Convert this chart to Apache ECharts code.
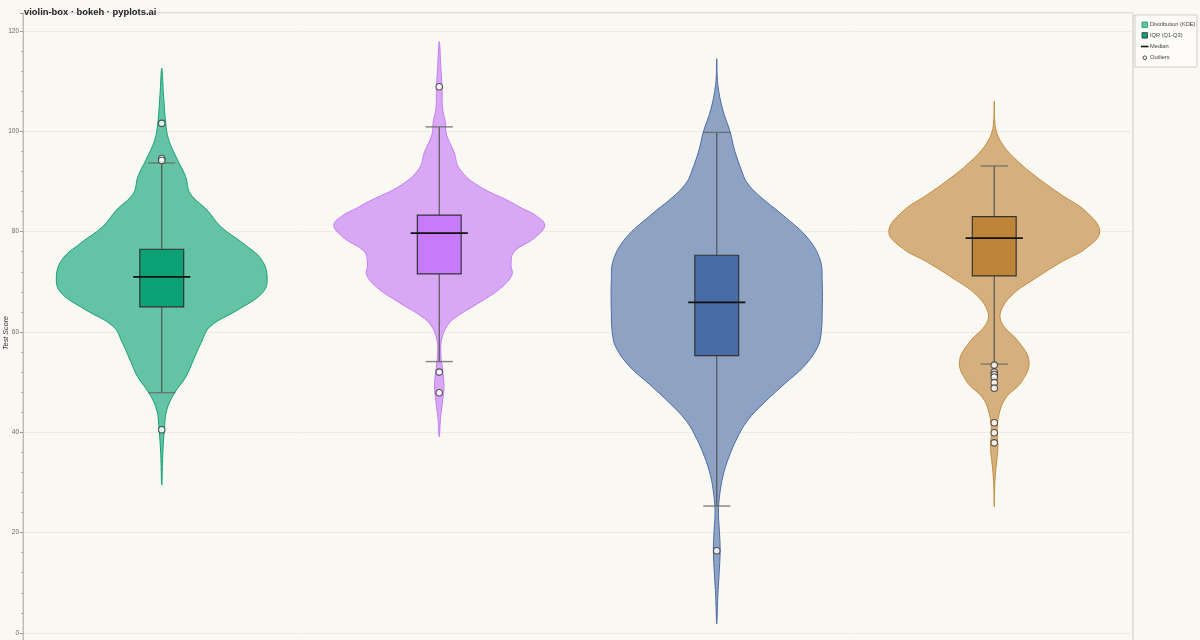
<!DOCTYPE html>
<html><head><meta charset="utf-8">
<script src="https://cdn.jsdelivr.net/npm/echarts@6/dist/echarts.min.js"></script>
<style>html,body{margin:0;padding:0;background:#faf8f3}#c{width:1200px;height:640px}</style>
</head><body><div id="c"></div>
<script>
// ---- data ----
const categories = ['Class A', 'Class B', 'Class C', 'Class D'];
const yTicks = [0, 20, 40, 60, 80, 100, 120];

// KDE profiles (score value, relative density 0..1)
const kdeA_y = [29.5, 35.8, 40.5, 44.4, 47.8, 51.1, 54.4, 57.7, 61.1, 64.4, 67.7, 70.4, 74.3, 77.7, 81.0, 84.3, 87.6, 91.0, 94.3, 98.3, 101.6, 107.6, 112.6];
const kdeA_d = [0, 0.01, 0.025, 0.047, 0.12, 0.23, 0.30, 0.37, 0.46, 0.72, 0.95, 1.0, 0.95, 0.77, 0.56, 0.43, 0.27, 0.226, 0.15, 0.066, 0.038, 0.016, 0];
const kdeB_y = [39.1, 42.8, 46.1, 49.4, 52.8, 55.4, 58.1, 60.7, 62.7, 66.0, 68.7, 71.4, 73.4, 76.0, 78.7, 81.3, 83.3, 84.6, 86.0, 89.3, 92.6, 95.9, 99.3, 101.9, 104.6, 108.9, 112.5, 117.9];
const kdeB_d = [0, 0.012, 0.031, 0.045, 0.029, 0.016, 0.019, 0.06, 0.14, 0.39, 0.58, 0.69, 0.68, 0.71, 0.9, 1.0, 0.91, 0.79, 0.67, 0.36, 0.19, 0.14, 0.07, 0.057, 0.031, 0.026, 0.016, 0];
const kdeC_y = [1.8, 7.3, 11.7, 16.4, 20.4, 24.1, 27.7, 31.4, 35.0, 38.7, 42.3, 45.9, 49.6, 53.2, 56.9, 59.8, 64.2, 70.0, 74.4, 78.8, 83.1, 87.5, 90.0, 91.9, 96.3, 99.9, 104.3, 109.4, 114.5];
const kdeC_d = [0, 0.01, 0.022, 0.032, 0.025, 0.016, 0.029, 0.06, 0.114, 0.19, 0.29, 0.45, 0.64, 0.83, 0.955, 0.99, 1.0, 1.0, 0.98, 0.86, 0.638, 0.384, 0.28, 0.24, 0.168, 0.127, 0.057, 0.01, 0];
const kdeD_y = [25.2, 30.2, 33.5, 36.8, 40.1, 43.5, 46.8, 50.1, 54.1, 58.1, 61.4, 64.0, 67.4, 70.7, 74.0, 76.7, 80.0, 84.0, 87.3, 90.6, 93.9, 97.3, 100.6, 106.0];
const kdeD_d = [0, 0.006, 0.019, 0.035, 0.028, 0.044, 0.107, 0.26, 0.33, 0.23, 0.082, 0.06, 0.17, 0.39, 0.64, 0.87, 1.0, 0.87, 0.64, 0.42, 0.23, 0.082, 0.013, 0];

// Box statistics
const q1 = [65.0, 71.6, 55.3, 71.2];
const medians = [71.0, 79.7, 65.9, 78.7];
const q3 = [76.5, 83.3, 75.3, 83.0];
const whiskerLow = [47.9, 54.1, 25.3, 53.6];
const whiskerHigh = [93.7, 100.9, 99.8, 93.1];

// Outliers
const outliersA = [101.6, 94.6, 94.2, 40.5];
const outliersB = [108.9, 52.0, 47.9];
const outliersC = [16.4];
const outliersD = [53.4, 52.0, 51.5, 51.0, 49.9, 48.8, 41.9, 39.9, 37.9];

// ---- styles ----
const violinFill = ['#63c3a4', '#d8a8f5', '#8ea3c3', '#d5b07e'];
const violinEdge = ['#16a077', '#c47cf4', '#4d6ca6', '#c68c3e'];
const boxFill = ['#0aa274', '#c77bfb', '#4a6ca6', '#be8538'];

const kdeY = [kdeA_y, kdeB_y, kdeC_y, kdeD_y];
const kdeD = [kdeA_d, kdeB_d, kdeC_d, kdeD_d];
const outliers = [outliersA, outliersB, outliersC, outliersD];

function renderItem(params, api) {
  const i = api.value(0);
  const cx = api.coord([i, 0])[0];
  const band = api.size([1, 0])[0];
  const maxHalf = band * 0.38;
  const boxHalf = band * 0.079;
  const medHalf = band * 0.103;
  const capHalf = band * 0.049;
  const ys = kdeY[i], ds = kdeD[i];
  const pts = [];
  for (let k = 0; k < ys.length; k++) pts.push([cx + ds[k] * maxHalf, api.coord([i, ys[k]])[1]]);
  for (let k = ys.length - 2; k >= 1; k--) pts.push([cx - ds[k] * maxHalf, api.coord([i, ys[k]])[1]]);
  const yq1 = api.coord([i, q1[i]])[1];
  const yq3 = api.coord([i, q3[i]])[1];
  const ymed = api.coord([i, medians[i]])[1];
  const ylo = api.coord([i, whiskerLow[i]])[1];
  const yhi = api.coord([i, whiskerHigh[i]])[1];
  return {
    type: 'group',
    children: [
      { type: 'polygon', shape: { points: pts, smooth: 0.4 },
        style: { fill: violinFill[i], stroke: violinEdge[i], lineWidth: 1 } },
      { type: 'line', shape: { x1: cx, y1: yhi, x2: cx, y2: ylo },
        style: { stroke: '#555', lineWidth: 1.2 } },
      { type: 'line', shape: { x1: cx - capHalf, y1: yhi, x2: cx + capHalf, y2: yhi },
        style: { stroke: '#666', lineWidth: 1.4, opacity: 0.8 } },
      { type: 'line', shape: { x1: cx - capHalf, y1: ylo, x2: cx + capHalf, y2: ylo },
        style: { stroke: '#666', lineWidth: 1.4, opacity: 0.8 } },
      { type: 'rect', shape: { x: cx - boxHalf, y: yq3, width: boxHalf * 2, height: yq1 - yq3 },
        style: { fill: boxFill[i], stroke: '#333', lineWidth: 1.2 } },
      { type: 'line', shape: { x1: cx - medHalf, y1: ymed, x2: cx + medHalf, y2: ymed },
        style: { stroke: '#111', lineWidth: 1.8 } }
    ]
  };
}

const outlierData = [];
outliers.forEach((arr, i) => arr.forEach(v => outlierData.push([i, v])));

const chart = echarts.init(document.getElementById('c'), null, { renderer: 'canvas' });
chart.setOption({
  backgroundColor: '#faf8f3',
  animation: false,
  title: {
    text: 'violin-box · bokeh · pyplots.ai',
    left: 19, top: 2.5,
    textStyle: { fontFamily: 'Liberation Sans', fontWeight: 'bold', fontSize: 9.4, color: '#222' }
  },
  grid: { left: 23, top: 13, right: 67, height: 640, show: true, borderColor: '#c9c7c2', borderWidth: 1, backgroundColor: 'transparent', outerBoundsMode: 'none' },
  xAxis: {
    type: 'category', data: categories, boundaryGap: true,
    axisLine: { show: false }, axisTick: { show: false },
    axisLabel: { color: '#555' }
  },
  yAxis: {
    type: 'value', min: -4, max: 123.6, splitNumber: 6, minInterval: 20, maxInterval: 20,
    name: 'Test Score', nameLocation: 'middle', nameGap: 14, nameMoveOverlap: false,
    nameTextStyle: { fontFamily: 'Liberation Sans', fontStyle: 'italic', fontSize: 7.2, color: '#333' },
    axisLine: { show: true, lineStyle: { color: '#bdbab4' } },
    axisTick: { show: true, length: 3, lineStyle: { color: '#999' } },
    minorTick: { show: true, splitNumber: 5, length: 2, lineStyle: { color: '#aaa' } },
    axisLabel: { fontFamily: 'Liberation Sans', fontSize: 6.5, color: '#666', margin: 4, showMinLabel: false, showMaxLabel: false,
      formatter: v => (yTicks.indexOf(v) >= 0 ? String(v) : '') },
    splitLine: { show: true, lineStyle: { color: '#efebe4', width: 1 } }
  },
  series: [
    { type: 'custom', renderItem: renderItem, data: categories.map((c, i) => [i]), z: 2 },
    { type: 'scatter', data: outlierData, symbol: 'circle', symbolSize: 6.5,
      itemStyle: { color: '#ffffff', borderColor: '#333', borderWidth: 1.1 }, z: 5 }
  ],
  graphic: [
    { type: 'rect', shape: { x: 1135, y: 15, width: 62, height: 52 },
      style: { fill: '#fdfcf8', stroke: '#cfcdc8', lineWidth: 1 } },
    { type: 'rect', shape: { x: 1142, y: 22, width: 5.5, height: 5.5 },
      style: { fill: violinFill[0], stroke: violinEdge[0], lineWidth: 0.8 } },
    { type: 'text', style: { x: 1150, y: 24.7, text: 'Distribution (KDE)', fontFamily: 'Liberation Sans', fontSize: 5.7, fill: '#444', verticalAlign: 'middle' } },
    { type: 'rect', shape: { x: 1142, y: 32.6, width: 5.5, height: 5.5 },
      style: { fill: boxFill[0], stroke: '#333', lineWidth: 0.8 } },
    { type: 'text', style: { x: 1150, y: 35.4, text: 'IQR (Q1-Q3)', fontFamily: 'Liberation Sans', fontSize: 5.7, fill: '#444', verticalAlign: 'middle' } },
    { type: 'line', shape: { x1: 1141, y1: 46.5, x2: 1148.5, y2: 46.5 },
      style: { stroke: '#111', lineWidth: 1.6 } },
    { type: 'text', style: { x: 1150, y: 46.5, text: 'Median', fontFamily: 'Liberation Sans', fontSize: 5.7, fill: '#444', verticalAlign: 'middle' } },
    { type: 'circle', shape: { cx: 1144.8, cy: 57.7, r: 1.8 },
      style: { fill: '#fff', stroke: '#333', lineWidth: 0.9 } },
    { type: 'text', style: { x: 1150, y: 57.7, text: 'Outliers', fontFamily: 'Liberation Sans', fontSize: 5.7, fill: '#444', verticalAlign: 'middle' } }
  ]
});
</script></body></html>
